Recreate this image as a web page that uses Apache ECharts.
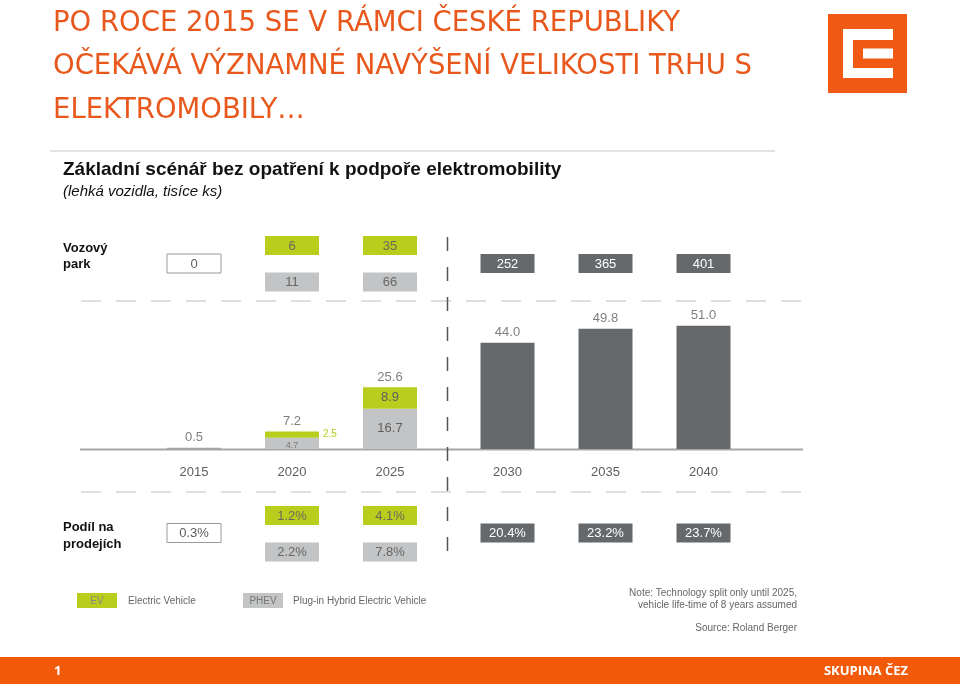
<!DOCTYPE html>
<html><head><meta charset="utf-8">
<script src="https://cdn.jsdelivr.net/npm/echarts@6/dist/echarts.min.js"></script>
<style>html,body{margin:0;padding:0;background:#fff}#c{width:960px;height:684px}</style>
</head><body><div id="c"></div>
<script>
// ---- data ----
const years = ['2015', '2020', '2025', '2030', '2035', '2040'];
const salesEV = [null, 2.5, 8.9, null, null, null];
const salesPHEV = [null, 4.7, 16.7, null, null, null];
const salesTotal = [0.5, 7.2, 25.6, 44.0, 49.8, 51.0];
const fleetEV = [null, 6, 35, null, null, null];
const fleetPHEV = [null, 11, 66, null, null, null];
const fleetTotal = [0, null, null, 252, 365, 401];
const shareEV = [null, 1.2, 4.1, null, null, null];
const sharePHEV = [null, 2.2, 7.8, null, null, null];
const shareTotal = [0.3, null, null, 20.4, 23.2, 23.7];

// ---- style ----
const COL = { ev: '#b8cd1c', phev: '#c2c4c6', dark: '#66696b', light: '#a3a5a7', text: '#5e5e5e', orange: '#e8581c', footer: '#f25a0a' };
const FONT = '"Liberation Sans", Arial, sans-serif';
const groups = [[0, 1, 2], [3, 4, 5]];

const grids = [
  { left: 145, width: 294, top: 304, bottom: 235 },
  { left: 458.5, width: 294, top: 304, bottom: 235 }
];
const xAxes = groups.map((g, gi) => ({
  type: 'category', gridIndex: gi, data: g.map(i => years[i]),
  axisLine: { show: false }, axisTick: { show: false },
  axisLabel: { color: COL.text, fontSize: 13, fontFamily: FONT, margin: 17 }
}));
const yAxes = groups.map((g, gi) => ({
  type: 'value', gridIndex: gi, min: 0, max: 60, show: false, splitLine: { show: false }
}));

const series = [];
const fmt1 = v => Number(v).toFixed(1);
groups.forEach((g, gi) => {
  // bars without technology split
  series.push({
    type: 'bar', xAxisIndex: gi, yAxisIndex: gi, stack: 's' + gi, barWidth: 54,
    itemStyle: { color: gi === 0 ? COL.light : COL.dark },
    data: g.map(i => salesEV[i] == null ? salesTotal[i] : '-'),
    z: 3
  });
  if (gi === 0) {
    series.push({
      type: 'bar', xAxisIndex: gi, yAxisIndex: gi, stack: 's' + gi, barWidth: 54,
      itemStyle: { color: COL.phev },
      data: g.map(i => salesPHEV[i] == null ? '-' : {
        value: salesPHEV[i],
        label: salesPHEV[i] < 6 ? { show: true, position: 'inside', fontSize: 9, color: '#777', offset: [0, 2] }
                                : { show: true, position: 'inside', fontSize: 13, color: COL.text }
      }),
      label: { fontFamily: FONT, formatter: p => fmt1(p.value) }, z: 3
    });
    series.push({
      type: 'bar', xAxisIndex: gi, yAxisIndex: gi, stack: 's' + gi, barWidth: 54,
      itemStyle: { color: COL.ev },
      data: g.map(i => salesEV[i] == null ? '-' : {
        value: salesEV[i],
        label: salesEV[i] < 4 ? { show: true, position: 'right', fontSize: 10, color: COL.ev, distance: 4 }
                              : { show: true, position: 'inside', fontSize: 13, color: COL.text }
      }),
      label: { fontFamily: FONT, formatter: p => fmt1(p.value) }, z: 3
    });
  }
  // total labels
  series.push({
    type: 'scatter', xAxisIndex: gi, yAxisIndex: gi, symbolSize: 1,
    itemStyle: { color: 'rgba(0,0,0,0)' },
    data: g.map(i => salesTotal[i]),
    label: { show: true, position: 'top', distance: 3, color: COL.text, fontSize: 13, fontFamily: FONT, formatter: p => fmt1(p.value) },
    z: 4
  });
});

// boxes rows (fleet / share of sales)
const rows = [
  { ev: fleetEV, phev: fleetPHEV, total: fleetTotal, yEV: 245.5, yPHEV: 282, yTotal: 263.5, f: v => String(v) },
  { ev: shareEV, phev: sharePHEV, total: shareTotal, yEV: 515.5, yPHEV: 552, yTotal: 533, f: v => fmt1(v) + '%' }
];
function boxSeries(gi, arr, y, kind, f) {
  const g = groups[gi];
  const data = [];
  g.forEach((i, li) => { if (arr[i] != null) data.push([li, 0, arr[i]]); });
  return {
    type: 'custom', xAxisIndex: gi, yAxisIndex: gi, data: data, encode: { x: 0, y: 1 }, clip: false, z: 5,
    renderItem: (params, api) => {
      const x = api.coord([api.value(0), 0])[0];
      let fill, stroke = null, tc;
      if (kind === 'ev') { fill = COL.ev; tc = '#6a6a5a'; }
      else if (kind === 'phev') { fill = COL.phev; tc = '#666'; }
      else if (gi === 0) { fill = '#fff'; stroke = '#9a9a9a'; tc = COL.text; }
      else { fill = COL.dark; tc = '#fff'; }
      return {
        type: 'group', children: [
          { type: 'rect', shape: { x: x - 27, y: y - 9.5, width: 54, height: 19 }, style: { fill: fill, stroke: stroke, lineWidth: 1 } },
          { type: 'text', style: { text: f(api.value(2)), x: x, y: y + 0.5, align: 'center', verticalAlign: 'middle', textAlign: 'center', textVerticalAlign: 'middle', fill: tc, font: '13px ' + FONT } }
        ]
      };
    }
  };
}
rows.forEach(r => {
  [0, 1].forEach(gi => {
    series.push(boxSeries(gi, r.ev, r.yEV, 'ev', r.f));
    series.push(boxSeries(gi, r.phev, r.yPHEV, 'phev', r.f));
    series.push(boxSeries(gi, r.total, r.yTotal, 'total', r.f));
  });
});

function txt(t, x, y, font, fill, align) {
  return { type: 'text', x: x, y: y, z: 10, style: { text: t, font: font, fill: fill, align: align || 'left', textAlign: align || 'left', verticalAlign: 'middle', textVerticalAlign: 'middle' } };
}
const titleFont = '27.5px "DejaVu Sans", sans-serif';
const graphic = [
  txt('PO ROCE 2015 SE V RÁMCI ČESKÉ REPUBLIKY', 53, 24, titleFont, COL.orange),
  txt('OČEKÁVÁ VÝZNAMNÉ NAVÝŠENÍ VELIKOSTI TRHU S', 53, 67, titleFont, COL.orange),
  txt('ELEKTROMOBILY…', 53, 111, titleFont, COL.orange),
  // logo
  { type: 'rect', z: 10, shape: { x: 828, y: 14, width: 79, height: 79 }, style: { fill: '#f05a14' } },
  { type: 'rect', z: 11, shape: { x: 843, y: 29, width: 50, height: 49 }, style: { fill: '#fff' } },
  { type: 'rect', z: 12, shape: { x: 853, y: 40, width: 40, height: 28 }, style: { fill: '#f05a14' } },
  { type: 'rect', z: 13, shape: { x: 863, y: 48.5, width: 30, height: 10 }, style: { fill: '#fff' } },
  // separator
  { type: 'line', z: 1, shape: { x1: 50, y1: 151, x2: 775, y2: 151 }, style: { stroke: '#e2e2e2', lineWidth: 2 } },
  txt('Základní scénář bez opatření k podpoře elektromobility', 63, 170, 'bold 19px ' + FONT, '#111'),
  txt('(lehká vozidla, tisíce ks)', 63, 192, 'italic 15px ' + FONT, '#111'),
  txt('Vozový', 63, 248, 'bold 13px ' + FONT, '#111'),
  txt('park', 63, 264, 'bold 13px ' + FONT, '#111'),
  txt('Podíl na', 63, 527, 'bold 13px ' + FONT, '#111'),
  txt('prodejích', 63, 544, 'bold 13px ' + FONT, '#111'),
  // guide lines
  { type: 'line', z: 1, shape: { x1: 81, y1: 301, x2: 803, y2: 301 }, style: { stroke: '#d4d4d4', lineWidth: 1.5, lineDash: [20, 15] } },
  { type: 'line', z: 1, shape: { x1: 81, y1: 492, x2: 803, y2: 492 }, style: { stroke: '#d4d4d4', lineWidth: 1.5, lineDash: [20, 15] } },
  { type: 'line', z: 1, shape: { x1: 80, y1: 449.5, x2: 803, y2: 449.5 }, style: { stroke: '#a6a6a6', lineWidth: 2 } },
  { type: 'line', z: 2, shape: { x1: 447.5, y1: 237, x2: 447.5, y2: 562 }, style: { stroke: '#555', lineWidth: 1.5, lineDash: [14, 16] } },
  // legend
  { type: 'rect', z: 10, shape: { x: 77, y: 593, width: 40, height: 15 }, style: { fill: COL.ev } },
  txt('EV', 97, 601, '10px ' + FONT, '#888', 'center'),
  txt('Electric Vehicle', 128, 601, '10px ' + FONT, '#666'),
  { type: 'rect', z: 10, shape: { x: 243, y: 593, width: 40, height: 15 }, style: { fill: COL.phev } },
  txt('PHEV', 263, 601, '10px ' + FONT, '#777', 'center'),
  txt('Plug-in Hybrid Electric Vehicle', 293, 601, '10px ' + FONT, '#666'),
  txt('Note: Technology split only until 2025,', 797, 593, '10px ' + FONT, '#666', 'right'),
  txt('vehicle life-time of 8 years assumed', 797, 605, '10px ' + FONT, '#666', 'right'),
  txt('Source: Roland Berger', 797, 628, '10px ' + FONT, '#666', 'right'),
  // footer
  { type: 'rect', z: 10, shape: { x: 0, y: 657, width: 960, height: 27 }, style: { fill: COL.footer } },
  txt('1', 54, 671, 'bold 13px "Open Sans", sans-serif', '#fff'),
  txt('SKUPINA ČEZ', 908, 671, 'bold 13px "Open Sans", sans-serif', '#fff', 'right')
];

const chart = echarts.init(document.getElementById('c'), null, { renderer: 'canvas' });
chart.setOption({
  animation: false,
  backgroundColor: '#fff',
  textStyle: { fontFamily: FONT },
  grid: grids, xAxis: xAxes, yAxis: yAxes,
  series: series,
  graphic: graphic
});
</script></body></html>
